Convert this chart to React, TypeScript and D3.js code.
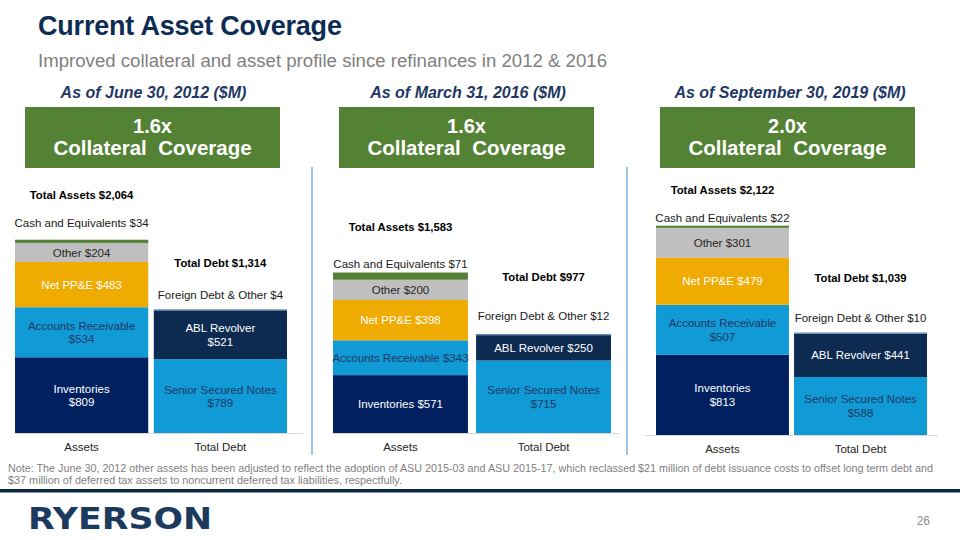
import React from "react";
import * as d3 from "d3";

// ---------- data ----------
const periods = ["As of June 30, 2012 ($M)", "As of March 31, 2016 ($M)", "As of September 30, 2019 ($M)"];
const coverage = ["1.6x", "1.6x", "2.0x"];
const barCategories = ["Assets", "Total Debt"];

const assetCategories = ["Inventories", "Accounts Receivable", "Net PP&E", "Other", "Cash and Equivalents"];
const assets2012 = [809, 534, 483, 204, 34];
const assets2016 = [571, 343, 398, 200, 71];
const assets2019 = [813, 507, 479, 301, 22];

const debtCategories = ["Senior Secured Notes", "ABL Revolver", "Foreign Debt & Other"];
const debt2012 = [789, 521, 4];
const debt2016 = [715, 250, 12];
const debt2019 = [588, 441, 10];

const assetSeries = [assets2012, assets2016, assets2019];
const debtSeries = [debt2012, debt2016, debt2019];

// ---------- styles / layout ----------
const FONT = "'Liberation Sans', Arial, sans-serif";
const assetColors = ["#002060", "#109ad6", "#f0ab00", "#bfbfbf", "#548235"];
const assetText = ["#ffffff", "#1f3864", "#ffffff", "#262626", null];
const debtColors = ["#109ad6", "#0d2a50", "#5a88b8"];
const debtText = ["#1f3864", "#ffffff", null];

const layout = [
  { r0: 15, r1: 287, pad: 0.04, ax0: 15, ax1: 303, base: 433, top: 227, cx: 152.5, hx: 153.5,
    assetTotalDy: 41, cashDy: 13, debtTotalDy: 43, foreignDy: 11, single: [] as string[] },
  { r0: 333, r1: 611, pad: 0.057, ax0: 333, ax1: 620, base: 433, top: 210, cx: 466.5, hx: 468,
    assetTotalDy: 42, cashDy: 5, debtTotalDy: 53, foreignDy: 14, single: ["Accounts Receivable", "Inventories", "ABL Revolver"] },
  { r0: 656, r1: 927, pad: 0.037, ax0: 645, ax1: 938, base: 435, top: 218, cx: 787.5, hx: 790,
    assetTotalDy: 32, cashDy: 4, debtTotalDy: 51, foreignDy: 11, single: ["ABL Revolver"] },
];
const alwaysSingle = ["Net PP&E", "Other"];
const fmt = d3.format(",");

function Stack({ names, values, colors, textColors, x, w, y, single, outsideDy, totalDy, totalLabel }: any) {
  const ends = Array.from(d3.cumsum(values));
  const total = ends[ends.length - 1];
  const barTop = y(total);
  const cx = x + w / 2;
  const out: any[] = [];
  values.forEach((v: number, i: number) => {
    const y0 = y(ends[i] - v);
    const y1 = y(ends[i]);
    const h = Math.max(y0 - y1, 1);
    out.push(<rect key={"r" + i} x={x} y={y0 - h} width={w} height={h} fill={colors[i]} />);
    if (textColors[i]) {
      const mid = (y0 + y1) / 2;
      const isSingle = single.includes(names[i]) || alwaysSingle.includes(names[i]);
      if (isSingle) {
        out.push(
          <text key={"t" + i} x={cx} y={mid} dy="0.36em" textAnchor="middle" fontSize={11.5} fill={textColors[i]}>
            {`${names[i]} $${fmt(v)}`}
          </text>
        );
      } else {
        out.push(
          <text key={"t" + i} x={cx} y={mid} textAnchor="middle" fontSize={11.5} fill={textColors[i]}>
            <tspan x={cx} dy="-0.22em">{names[i]}</tspan>
            <tspan x={cx} dy="1.16em">{`$${fmt(v)}`}</tspan>
          </text>
        );
      }
    } else {
      out.push(
        <text key={"o" + i} x={cx} y={barTop - outsideDy} textAnchor="middle" fontSize={11.5} fill="#1a1a1a">
          {`${names[i]} $${fmt(v)}`}
        </text>
      );
    }
  });
  out.push(
    <text key="tot" x={cx} y={barTop - totalDy} textAnchor="middle" fontSize={11.3} fontWeight="bold" fill="#000">
      {`${totalLabel} $${fmt(total)}`}
    </text>
  );
  return <g>{out}</g>;
}

function Panel({ idx }: { idx: number }) {
  const L = layout[idx];
  const x = d3.scaleBand<string>().domain(barCategories).range([L.r0, L.r1]).paddingInner(L.pad).paddingOuter(0);
  const y = d3.scaleLinear().domain([0, 2200]).range([L.base, L.top]);
  const bw = x.bandwidth();
  return (
    <g>
      <text x={L.hx} y={98} textAnchor="middle" fontSize={16} fontWeight="bold" fontStyle="italic" fill="#1f3864">
        {periods[idx]}
      </text>
      <rect x={L.cx - 127.5} y={107} width={255} height={61} fill="#548235" />
      <text x={L.cx} y={133} textAnchor="middle" fontSize={20} fontWeight="bold" fill="#fff">{coverage[idx]}</text>
      <text x={L.cx} y={155} textAnchor="middle" fontSize={20.5} fontWeight="bold" fill="#fff" style={{ whiteSpace: "pre" }}>
        {"Collateral  Coverage"}
      </text>
      <line x1={L.ax0} x2={L.ax1} y1={L.base + 0.5} y2={L.base + 0.5} stroke="#d9d9d9" strokeWidth={1} />
      <Stack names={assetCategories} values={assetSeries[idx]} colors={assetColors} textColors={assetText}
        x={x("Assets")!} w={bw} y={y} single={L.single} outsideDy={L.cashDy} totalDy={L.assetTotalDy} totalLabel="Total Assets" />
      <Stack names={debtCategories} values={debtSeries[idx]} colors={debtColors} textColors={debtText}
        x={x("Total Debt")!} w={bw} y={y} single={L.single} outsideDy={L.foreignDy} totalDy={L.debtTotalDy} totalLabel="Total Debt" />
      {barCategories.map((c) => (
        <text key={c} x={x(c)! + bw / 2} y={L.base + 18} textAnchor="middle" fontSize={11.5} fill="#262626">{c}</text>
      ))}
    </g>
  );
}

export default function App() {
  return (
    <svg width={960} height={540} style={{ position: "absolute", left: 0, top: 0, background: "#fff" }} fontFamily={FONT}>
      <rect width={960} height={540} fill="#fff" />
      <text x={38} y={35} fontSize={27} fontWeight="bold" fill="#0d2c54" letterSpacing={-0.2}>Current Asset Coverage</text>
      <text x={38} y={67} fontSize={17.5} fill="#808080" textLength={569} lengthAdjust="spacingAndGlyphs">
        Improved collateral and asset profile since refinances in 2012 &amp; 2016
      </text>
      {[0, 1, 2].map((i) => <Panel key={i} idx={i} />)}
      <line x1={312} x2={312} y1={167} y2={455} stroke="#3d8fcf" strokeWidth={1} />
      <line x1={627} x2={627} y1={167} y2={455} stroke="#3d8fcf" strokeWidth={1} />
      <text x={8} y={472} fontSize={10} fill="#7f7f7f" textLength={925} lengthAdjust="spacingAndGlyphs">
        Note: The June 30, 2012 other assets has been adjusted to reflect the adoption of ASU 2015-03 and ASU 2015-17, which reclassed $21 million of debt issuance costs to offset long term debt and
      </text>
      <text x={8} y={484} fontSize={10} fill="#7f7f7f" textLength={394} lengthAdjust="spacingAndGlyphs">
        $37 million of deferred tax assets to noncurrent deferred tax liabilities, respectfully.
      </text>
      <rect x={0} y={489} width={960} height={3.5} fill="#0d2a45" />
      <text x={28} y={529} fontSize={30} fontFamily="'DejaVu Sans', sans-serif" fontWeight="bold" fill="#1c3a5e"
        textLength={184} lengthAdjust="spacingAndGlyphs">RYERSON</text>
      <text x={930} y={525} fontSize={12} textAnchor="end" fill="#8c8c8c">26</text>
    </svg>
  );
}
